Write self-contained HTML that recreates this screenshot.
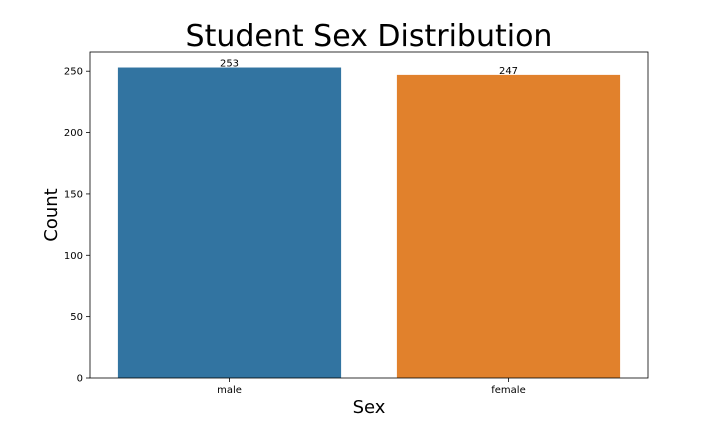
<!DOCTYPE html>
<html><head><meta charset="utf-8"><style>
body{margin:0;background:#fff;}
svg{display:block;font-family:"DejaVu Sans","Liberation Sans",sans-serif;}
</style></head><body>
<svg id="chart" width="720" height="432">
<rect width="720" height="432" fill="#fff"/>
<text x="369" y="46" font-size="30" text-anchor="middle">Student Sex Distribution</text>
<text x="0" y="0" font-size="18" text-anchor="middle" transform="translate(57,215) rotate(-90)">Count</text>
<text x="369" y="413" font-size="18" text-anchor="middle">Sex</text>
<g id="plot"></g>
<rect x="90" y="52" width="558" height="326" fill="none" stroke="#000" stroke-width="0.8"/>
</svg>
<script>
const categories = ["male", "female"];
const counts = [253, 247];
const yTicks = [0, 50, 100, 150, 200, 250];
const colors = ["#3274a1", "#e1812c"];

const L=90,R=648,T=52,B=378;
const yMax = Math.max(...counts)*1.05;
const y = v => B - v/yMax*(B-T);
const band = (R-L)/categories.length;
const xc = i => L + band*(i+0.5);
const g = document.getElementById('plot');
const NS = "http://www.w3.org/2000/svg";
function mk(tag, attrs){const e=document.createElementNS(NS,tag);for(const k in attrs)e.setAttribute(k,attrs[k]);g.appendChild(e);return e;}

yTicks.forEach(t=>{
  const l = mk('line',{x1:L-4,x2:L,y1:y(t),y2:y(t),stroke:'#000','stroke-width':0.8});
  
  
  const tx = mk('text',{x:L-7,y:y(t)+3.5,'font-size':10,'text-anchor':'end'});
  tx.textContent=t;
  
  
});
categories.forEach((c,i)=>{
  const w = band*0.8;
  const r = mk('rect',{x:xc(i)-w/2,y:y(counts[i]),width:w,height:B-y(counts[i]),fill:colors[i]});
  
  
  const v = mk('text',{x:xc(i),y:y(counts[i])-1,'font-size':10,'text-anchor':'middle'});
  v.textContent=counts[i];
  
  
  const tk = mk('line',{x1:xc(i),x2:xc(i),y1:B,y2:B+4,stroke:'#000','stroke-width':0.8});
  
  
  const lb = mk('text',{x:xc(i),y:B+15,'font-size':10,'text-anchor':'middle'});
  lb.textContent=c;
  
  
});
</script>
</body></html>
